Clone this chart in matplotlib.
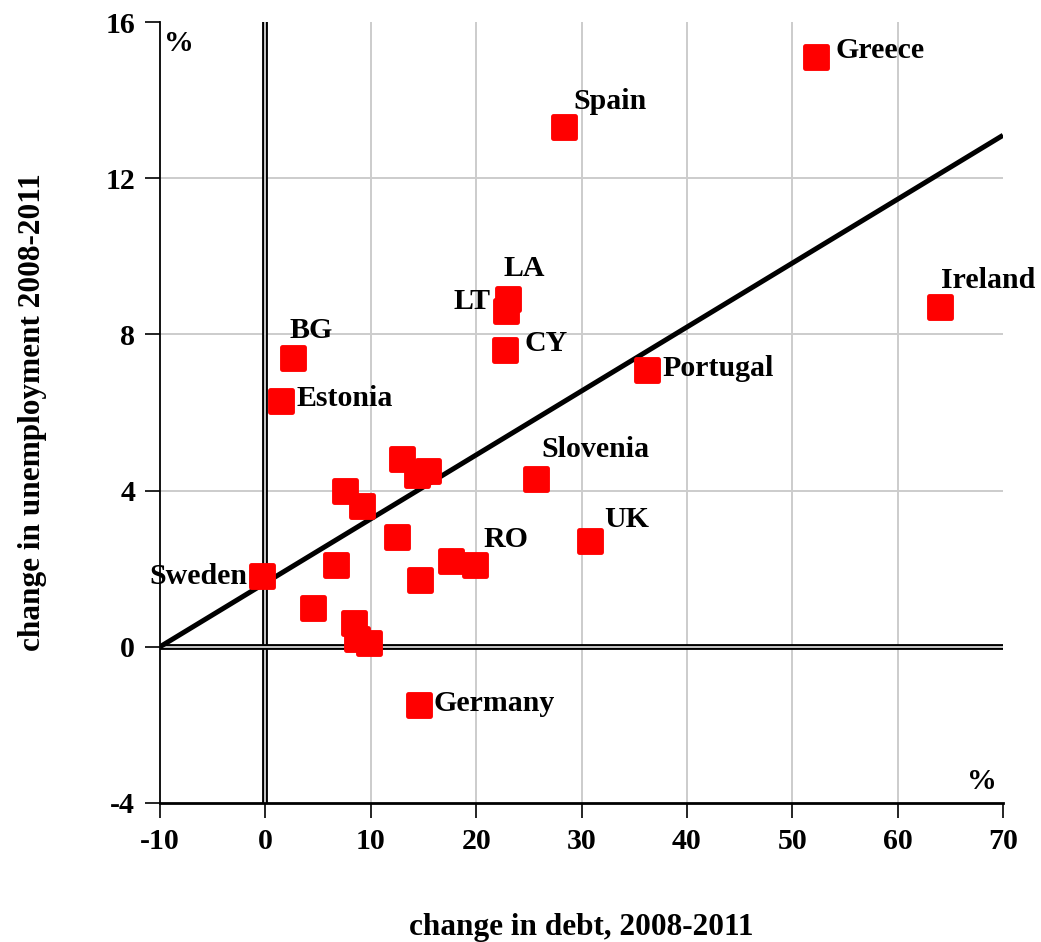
import numpy as np
import matplotlib
matplotlib.use("Agg")
import matplotlib.pyplot as plt
from matplotlib.markers import MarkerStyle

plt.rcParams['font.family'] = ['Liberation Serif', 'DejaVu Serif']
plt.rcParams['font.weight'] = 'bold'

# data
countries = ['Sweden', 'Estonia', 'BG', '', '', '', '', '', '', '', '', '', '', '', '', '',
             'RO', 'Germany', 'LT', 'LA', 'CY', 'Slovenia', 'Spain', 'UK', 'Portugal',
             'Greece', 'Ireland']
debt_change = [-0.3, 1.5, 2.6, 4.5, 6.7, 7.6, 8.4, 8.7, 9.2, 9.8, 12.5, 13.0, 14.4, 15.4, 14.7, 17.6,
               19.9, 14.6, 22.8, 23.0, 22.7, 25.7, 28.3, 30.8, 36.2,
               52.3, 64.0]
unemp_change = [1.8, 6.3, 7.4, 1.0, 2.1, 4.0, 0.6, 0.2, 3.6, 0.1, 2.8, 4.8, 4.4, 4.5, 1.7, 2.2,
                2.1, -1.5, 8.6, 8.9, 7.6, 4.3, 13.3, 2.7, 7.1,
                15.1, 8.7]
trend_x = [-10, 70]
trend_y = [0.0, 13.1]
x_ticks = [-10, 0, 10, 20, 30, 40, 50, 60, 70]
y_ticks = [-4, 0, 4, 8, 12, 16]

# label offsets in points (dx, dy, ha)
label_pos = {
    'Sweden': (-11, 0, 'right'), 'Estonia': (11, 2, 'left'), 'BG': (-2, 20, 'left'),
    'RO': (6, 18, 'left'), 'Germany': (10, 1, 'left'), 'LT': (-11, 7, 'right'),
    'LA': (-3, 22, 'left'), 'CY': (14, 5, 'left'), 'Slovenia': (4, 21, 'left'),
    'Spain': (7, 19, 'left'), 'UK': (10, 16, 'left'), 'Portugal': (11, 1, 'left'),
    'Greece': (14, 5, 'left'), 'Ireland': (1, 19, 'left'),
}

FS = 21.5

fig = plt.figure(figsize=(10.41, 9.42), dpi=100)
ax = fig.add_axes([0.1537, 0.1476, 0.8098, 0.829])
ax.set_xlim(-10, 70)
ax.set_ylim(-4, 16)

# grid on interior ticks only
for xv in x_ticks[2:-1]:
    ax.axvline(xv, color='#cccccc', lw=1.4, zorder=1)
for yv in y_ticks[2:-1]:
    ax.axhline(yv, color='#cccccc', lw=1.4, zorder=1)

# double zero lines
ax.axvline(0, color='black', lw=4.2, zorder=2)
ax.axvline(0, color='#c8c8c8', lw=1.4, zorder=2)
ax.axhline(0, color='black', lw=4.2, zorder=2)
ax.axhline(0, color='#c8c8c8', lw=1.4, zorder=2)

ax.plot(trend_x, trend_y, color='black', lw=3.6, zorder=3, solid_capstyle='butt')

mk = MarkerStyle('s', joinstyle='round')
ax.plot(debt_change, unemp_change, linestyle='none', marker=mk, markersize=15.5,
        markerfacecolor='#ff0000', markeredgecolor='#ff0000', markeredgewidth=3.5, zorder=4)

for name, xv, yv in zip(countries, debt_change, unemp_change):
    if not name:
        continue
    dx, dy, ha = label_pos[name]
    ax.annotate(name, (xv, yv), xytext=(dx, dy), textcoords='offset points',
                ha=ha, va='center', fontsize=FS, fontweight='bold', zorder=5)

ax.text(0.005, 0.99, '%', transform=ax.transAxes, fontsize=FS, fontweight='bold',
        ha='left', va='top')
ax.text(0.992, 0.01, '%', transform=ax.transAxes, fontsize=FS, fontweight='bold',
        ha='right', va='bottom')

ax.spines['top'].set_visible(False)
ax.spines['right'].set_visible(False)
ax.spines['left'].set_linewidth(1.3)
ax.spines['bottom'].set_linewidth(2.0)
ax.set_xticks(x_ticks)
ax.set_yticks(y_ticks)
ax.set_xticklabels([str(v) for v in x_ticks])
ax.set_yticklabels([str(v) for v in y_ticks])
ax.tick_params(direction='out', length=11, width=1.2, labelsize=FS, pad=7)
for lab in ax.get_xticklabels() + ax.get_yticklabels():
    lab.set_fontweight('bold')

ax.set_xlabel('change in debt, 2008-2011', fontsize=22.5, fontweight='bold', labelpad=42)
ax.set_ylabel('change in unemployment 2008-2011', fontsize=22.5, fontweight='bold', labelpad=42)

fig.savefig('out.png', dpi=100)
